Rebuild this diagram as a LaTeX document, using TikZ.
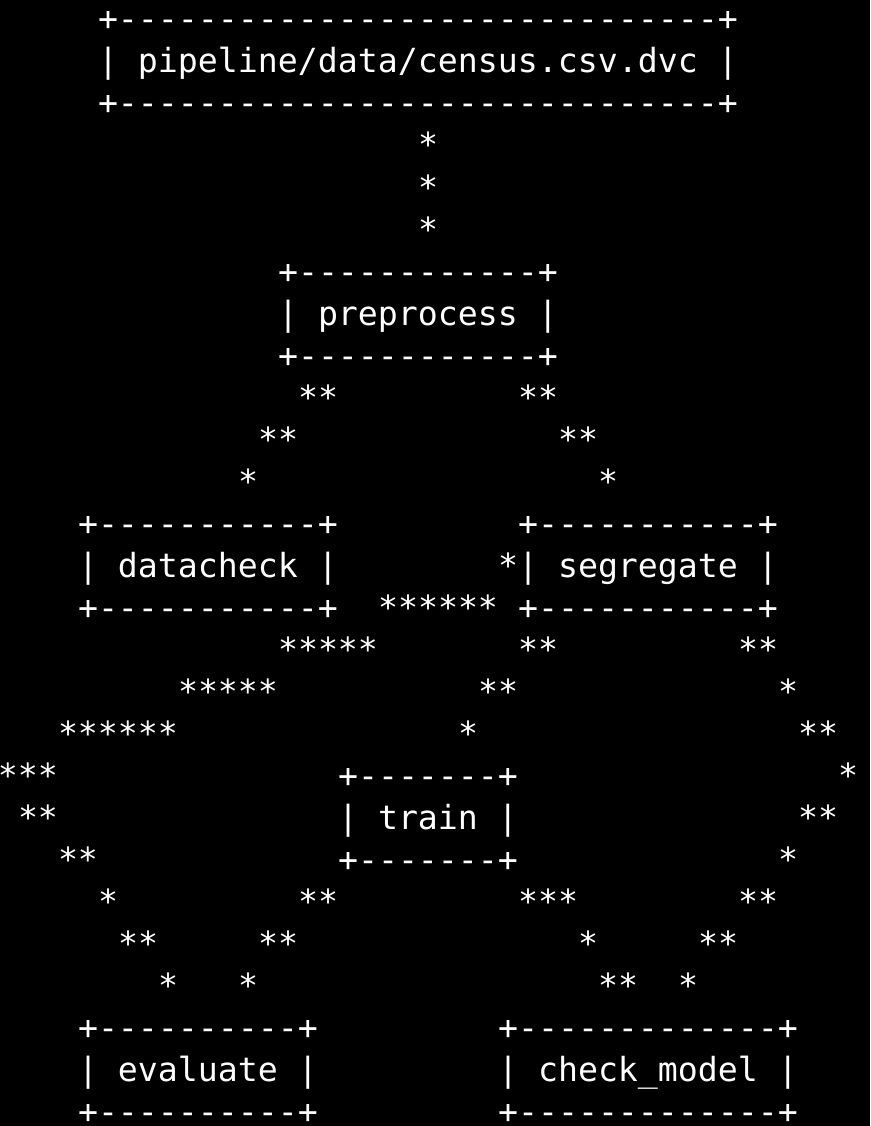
\documentclass[tikz,border=0pt]{standalone}
\usepackage{fontspec}
\setmonofont{DejaVu Sans Mono}
\tikzset{
  asc/.style={anchor=base west, inner sep=0pt, outer sep=0pt, text=white,
    font=\ttfamily\fontsize{33.22}{42}\selectfont}
}
% #1 name, #2 column, #3 row, #4 text
\newcommand\ascrun[4]{\node[asc] (#1) at ({20*#2-2},{-31-42*(#3-1)}) {#4};}
\begin{document}
\frenchspacing
\begin{tikzpicture}[x=1pt,y=1pt]
\fill[black] (0,0) rectangle (870,-1126);
\useasboundingbox (0,0) rectangle (870,-1126);
% source node
\ascrun{srcT}{5}{1}{+------------------------------+}
\ascrun{srcM}{5}{2}{| pipeline/data/census.csv.dvc |}
\ascrun{srcB}{5}{3}{+------------------------------+}
\ascrun{e1a}{21}{4}{*}
\ascrun{e1b}{21}{5}{*}
\ascrun{e1c}{21}{6}{*}
% preprocess
\ascrun{preT}{14}{7}{+------------+}
\ascrun{preM}{14}{8}{| preprocess |}
\ascrun{preB}{14}{9}{+------------+}
\ascrun{e2a}{15}{10}{**}
\ascrun{e3a}{26}{10}{**}
\ascrun{e2b}{13}{11}{**}
\ascrun{e3b}{28}{11}{**}
\ascrun{e2c}{12}{12}{*}
\ascrun{e3c}{30}{12}{*}
% datacheck and segregate
\ascrun{dcT}{4}{13}{+-----------+}
\ascrun{sgT}{26}{13}{+-----------+}
\ascrun{dcM}{4}{14}{| datacheck |}
\ascrun{sgM}{25}{14}{*| segregate |}
\ascrun{dcB}{4}{15}{+-----------+}
\ascrun{e4a}{19}{15}{******}
\ascrun{sgB}{26}{15}{+-----------+}
\ascrun{e5a}{14}{16}{*****}
\ascrun{e6a}{26}{16}{**}
\ascrun{e7a}{37}{16}{**}
\ascrun{e5b}{9}{17}{*****}
\ascrun{e6b}{24}{17}{**}
\ascrun{e7b}{39}{17}{*}
\ascrun{e5c}{3}{18}{******}
\ascrun{e6c}{23}{18}{*}
\ascrun{e7c}{40}{18}{**}
% train
\ascrun{e5d}{0}{19}{***}
\ascrun{trT}{17}{19}{+-------+}
\ascrun{e7d}{42}{19}{*}
\ascrun{e5e}{1}{20}{**}
\ascrun{trM}{17}{20}{| train |}
\ascrun{e7e}{40}{20}{**}
\ascrun{e5f}{3}{21}{**}
\ascrun{trB}{17}{21}{+-------+}
\ascrun{e7f}{39}{21}{*}
\ascrun{e5g}{5}{22}{*}
\ascrun{e8a}{15}{22}{**}
\ascrun{e9a}{26}{22}{***}
\ascrun{e7g}{37}{22}{**}
\ascrun{e5h}{6}{23}{**}
\ascrun{e8b}{13}{23}{**}
\ascrun{e9b}{29}{23}{*}
\ascrun{e7h}{35}{23}{**}
\ascrun{e5i}{8}{24}{*}
\ascrun{e8c}{12}{24}{*}
\ascrun{e9c}{30}{24}{**}
\ascrun{e7i}{34}{24}{*}
% evaluate and check_model
\ascrun{evT}{4}{25}{+----------+}
\ascrun{cmT}{25}{25}{+-------------+}
\ascrun{evM}{4}{26}{| evaluate |}
\ascrun{cmM}{25}{26}{| check\_model |}
\ascrun{evB}{4}{27}{+----------+}
\ascrun{cmB}{25}{27}{+-------------+}
\end{tikzpicture}
\end{document}
